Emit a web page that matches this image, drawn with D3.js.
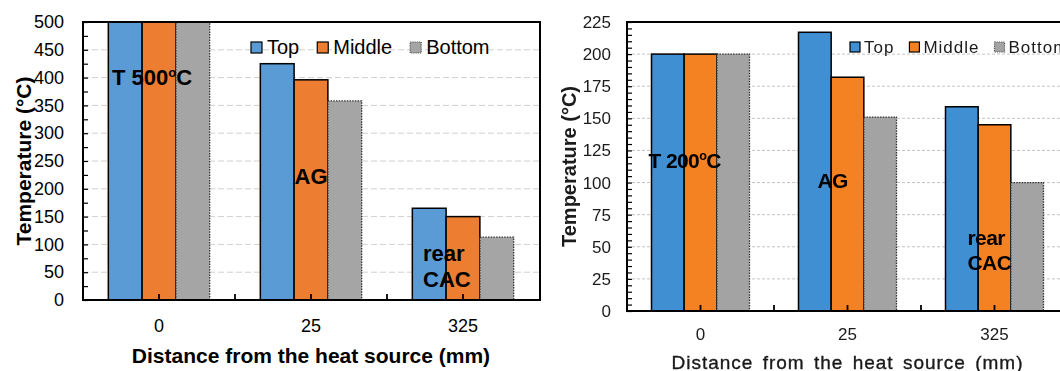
<!DOCTYPE html>
<html>
<head>
<meta charset="utf-8">
<script src="https://cdn.jsdelivr.net/npm/d3@7"></script>
<style>
  html, body { margin: 0; padding: 0; background: #fff; }
  svg { display: block; font-family: "Liberation Sans", Arial, sans-serif; }
</style>
</head>
<body>
<svg id="chart" width="1060" height="371"></svg>
<script>
// Shared categories and series
const categories = ["0", "25", "325"];
const seriesNames = ["Top", "Middle", "Bottom"];

// Panel A: heat source at 500 °C
const topA = [500, 425, 165];
const middleA = [500, 396, 150];
const bottomA = [500, 358, 113];
const ticksA = [0, 50, 100, 150, 200, 250, 300, 350, 400, 450, 500];
const labelsA = ["T 500", "AG", "rear", "CAC"];

// Panel B: heat source at 200 °C
const topB = [200, 217, 159];
const middleB = [200, 182, 145];
const bottomB = [200, 151, 100];
const ticksB = [0, 25, 50, 75, 100, 125, 150, 175, 200, 225];
const labelsB = ["T 200", "AG", "rear", "CAC"];

const xTitle = "Distance from the heat source (mm)";
const yTitle = "Temperature (°C)";

const svg = d3.select("#chart");
const defs = svg.append("defs");
defs.append("filter").attr("id", "soft")
  .attr("x", "-5%").attr("y", "-5%").attr("width", "110%").attr("height", "110%")
  .append("feGaussianBlur").attr("stdDeviation", 0.55);

function drawPanel(cfg) {
  const g = svg.append("g");
  if (cfg.filter) g.attr("filter", cfg.filter);

  const x = d3.scaleBand().domain(categories).range([cfg.left, cfg.right]);
  const bw = x.bandwidth();
  const xs = d3.scaleBand().domain(seriesNames).range([bw / 6, bw * 5 / 6]);
  const y = d3.scaleLinear().domain([0, cfg.yMax]).range([cfg.bottom, cfg.top]);

  // horizontal gridlines
  g.append("g").selectAll("line")
    .data(cfg.ticks.filter(t => t > 0 && t < cfg.yMax))
    .join("line")
    .attr("x1", cfg.left).attr("x2", cfg.gridRight)
    .attr("y1", d => y(d)).attr("y2", d => y(d))
    .attr("stroke", cfg.gridColor).attr("stroke-width", 1)
    .attr("stroke-dasharray", cfg.gridDash);

  // bars
  const series = cfg.series.map((vals, i) => ({ name: seriesNames[i], vals }));
  series.forEach((s, si) => {
    g.append("g").selectAll("rect")
      .data(s.vals.map((v, ci) => ({ cat: categories[ci], v })))
      .join("rect")
      .attr("x", d => x(d.cat) + xs(s.name))
      .attr("y", d => y(d.v))
      .attr("width", xs.bandwidth())
      .attr("height", d => y(0) - y(d.v))
      .attr("fill", cfg.colors[si])
      .attr("stroke", si === 2 ? "#333" : "#000")
      .attr("stroke-width", si === 2 ? 1.3 : 1.5)
      .attr("stroke-dasharray", si === 2 ? "1.5,1.2" : null);
  });

  // y axis: labels + inward ticks
  const yAxis = g.append("g").attr("transform", `translate(${cfg.left},0)`)
    .call(d3.axisLeft(y).tickValues(cfg.ticks).tickSize(0).tickPadding(cfg.yPad));
  yAxis.select(".domain").remove();
  yAxis.selectAll("text")
    .attr("font-family", "Liberation Sans, Arial, sans-serif")
    .attr("font-size", cfg.tickSize).attr("fill", cfg.textColor)
    .attr("letter-spacing", cfg.tickSpacing);

  const minor = d3.range(0, cfg.yMax + 0.001, cfg.minorStep);
  const yMinor = g.append("g").attr("transform", `translate(${cfg.left},0)`)
    .call(d3.axisLeft(y).tickValues(minor).tickSize(-cfg.minorLen).tickFormat(""));
  yMinor.select(".domain").remove();
  yMinor.selectAll("line").attr("stroke", "#000").attr("stroke-width", 1.2);

  // x axis: inward ticks at centres and labels
  const xAxis = g.append("g").attr("transform", `translate(0,${cfg.bottom})`)
    .call(d3.axisBottom(x).tickSize(-6).tickPadding(cfg.xPad));
  xAxis.select(".domain").remove();
  xAxis.selectAll("line").attr("stroke", "#000").attr("stroke-width", 1.8);
  xAxis.selectAll("text")
    .attr("font-family", "Liberation Sans, Arial, sans-serif")
    .attr("font-size", cfg.tickSize).attr("fill", cfg.textColor)
    .attr("letter-spacing", cfg.tickSpacing);

  // category boundary ticks
  g.append("g").selectAll("line")
    .data(categories.slice(0, -1))
    .join("line")
    .attr("x1", d => x(d) + bw).attr("x2", d => x(d) + bw)
    .attr("y1", cfg.bottom).attr("y2", cfg.bottom - 6)
    .attr("stroke", "#000").attr("stroke-width", 1.8);

  // frame
  g.append("path")
    .attr("d", cfg.frameRight
      ? `M${cfg.left},${cfg.top}H${cfg.frameRight}V${cfg.bottom}H${cfg.left}Z`
      : `M${cfg.gridRight},${cfg.top}H${cfg.left}V${cfg.bottom}H${cfg.gridRight}`)
    .attr("fill", "none").attr("stroke", "#000").attr("stroke-width", 2);

  // legend
  let lx = cfg.legendX;
  const leg = g.append("g");
  seriesNames.forEach((name, i) => {
    leg.append("rect")
      .attr("x", lx).attr("y", cfg.legendY - cfg.legendBox)
      .attr("width", cfg.legendBox).attr("height", cfg.legendBox)
      .attr("fill", cfg.colors[i])
      .attr("stroke", i === 2 ? "#555" : "#000")
      .attr("stroke-width", 1.2)
      .attr("stroke-dasharray", i === 2 ? "1.2,1" : null);
    const t = leg.append("text")
      .attr("x", lx + cfg.legendBox + cfg.legendGap).attr("y", cfg.legendY + 0.5)
      .attr("font-size", cfg.legendSize).attr("fill", cfg.textColor)
      .attr("letter-spacing", cfg.legendSpacing)
      .text(name);
    lx += cfg.legendBox + cfg.legendGap + t.node().getComputedTextLength() + cfg.legendStep;
  });

  // region annotations inside the bars
  cfg.labels.forEach((txt, i) => {
    const a = cfg.labelPos[i];
    const t = g.append("text")
      .attr("x", x(categories[a.cat]) + bw / 2 + a.dx)
      .attr("y", y(a.v))
      .attr("text-anchor", a.anchor)
      .attr("font-size", cfg.labelSize).attr("font-weight", "bold")
      .attr("letter-spacing", cfg.labelSpacing)
      .attr("fill", "#000");
    t.append("tspan").text(txt);
    if (i === 0) {
      t.append("tspan").attr("font-size", cfg.labelSize * 0.6).attr("dy", -cfg.labelSize * 0.38).text("o");
      t.append("tspan").attr("dy", cfg.labelSize * 0.38).text("C");
    }
  });

  // axis titles
  g.append("text")
    .attr("x", (cfg.left + cfg.right) / 2 + cfg.xTitleDx).attr("y", cfg.xTitleY)
    .attr("text-anchor", "middle")
    .attr("font-size", cfg.xTitleSize).attr("font-weight", cfg.xTitleWeight)
    .attr("letter-spacing", cfg.xTitleSpacing).attr("word-spacing", cfg.xTitleWord)
    .attr("fill", cfg.textColor)
    .attr("stroke", cfg.xTitleStroke ? cfg.textColor : null)
    .attr("stroke-width", cfg.xTitleStroke || null)
    .text(xTitle);
  g.append("text")
    .attr("transform", `translate(${cfg.yTitleX},${(cfg.top + cfg.bottom) / 2}) rotate(-90)`)
    .attr("text-anchor", "middle")
    .attr("font-size", cfg.yTitleSize).attr("font-weight", "bold")
    .attr("fill", cfg.textColor)
    .text(yTitle);
}

drawPanel({
  left: 83, right: 539, top: 22, bottom: 300, frameRight: 540, gridRight: 539,
  yMax: 500, ticks: ticksA, minorStep: 25, minorLen: 5,
  series: [topA, middleA, bottomA],
  colors: ["#5b9bd5", "#ed7d31", "#a5a5a5"],
  gridColor: "#d0d0d0", gridDash: "6,3",
  tickSize: 18, tickSpacing: 0, textColor: "#000", yPad: 19, xPad: 19,
  legendX: 251, legendY: 53, legendBox: 11, legendGap: 5, legendStep: 18,
  legendSize: 20, legendSpacing: 0,
  labels: labelsA, labelSize: 22, labelSpacing: 0,
  labelPos: [
    { cat: 0, v: 386, dx: -47, anchor: "start" },
    { cat: 1, v: 208, dx: 0, anchor: "middle" },
    { cat: 2, v: 70, dx: -40, anchor: "start" },
    { cat: 2, v: 23.5, dx: -40, anchor: "start" }
  ],
  xTitleY: 362.5, xTitleSize: 21, xTitleWeight: "bold", xTitleSpacing: 0, xTitleWord: 0, xTitleDx: 0,
  yTitleX: 31, yTitleSize: 21
});

drawPanel({
  left: 627, right: 1068, top: 22, bottom: 311, frameRight: null, gridRight: 1062,
  yMax: 225, ticks: ticksB, minorStep: 5, minorLen: 5,
  series: [topB, middleB, bottomB],
  colors: ["#3f8fd2", "#f58220", "#a3a3a3"],
  gridColor: "#c4c4c4", gridDash: "3,2",
  tickSize: 17, tickSpacing: 0, textColor: "#1a1a1a", yPad: 16, xPad: 17,
  legendX: 850, legendY: 52, legendBox: 10, legendGap: 4, legendStep: 15,
  legendSize: 17, legendSpacing: 1,
  labels: labelsB, labelSize: 21, labelSpacing: -0.6,
  labelPos: [
    { cat: 0, v: 111, dx: -52, anchor: "start" },
    { cat: 1, v: 96, dx: -30, anchor: "start" },
    { cat: 2, v: 51.5, dx: -27, anchor: "start" },
    { cat: 2, v: 32, dx: -27, anchor: "start" }
  ],
  xTitleY: 368.5, xTitleSize: 19, xTitleWeight: "normal", xTitleSpacing: 1, xTitleWord: 3, xTitleDx: 0,
  xTitleStroke: 0.35,
  yTitleX: 576, yTitleSize: 20,
  filter: "url(#soft)"
});
</script>
</body>
</html>
